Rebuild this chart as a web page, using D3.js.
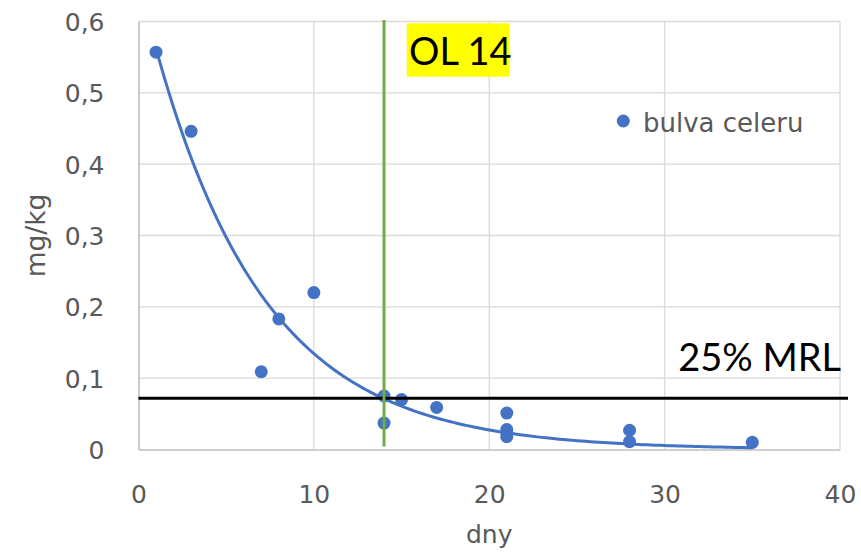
<!DOCTYPE html>
<html>
<head>
<meta charset="utf-8">
<script src="https://cdn.jsdelivr.net/npm/d3@7"></script>
<style>
  html, body { margin: 0; padding: 0; background: #ffffff; }
  svg { display: block; }
</style>
</head>
<body>
<svg id="chart" width="861" height="560"></svg>
<script>
// Residue measurements: days after application vs. residue (mg/kg)
const days = [1, 3, 7, 8, 10, 14, 14, 15, 17, 21, 21, 21, 21, 28, 28, 35];
const residues = [0.557, 0.446, 0.109, 0.183, 0.220, 0.075, 0.037, 0.070, 0.059,
                  0.051, 0.028, 0.023, 0.018, 0.027, 0.011, 0.010];
const seriesName = "bulva celeru";

const xTicks = [0, 10, 20, 30, 40];
const yTicks = [0, 0.1, 0.2, 0.3, 0.4, 0.5, 0.6];

// Reference levels
const mrlQuarter = 0.072;      // 25 % of the MRL
const mrlLabel = "25% MRL";
const waitingDay = 14;         // ochranná lhůta
const waitingLabel = "OL 14";

const W = 861, H = 560;
const m = { left: 138.5, right: 21, top: 21.5, bottom: 110.5 };
const svg = d3.select("#chart");

const x = d3.scaleLinear().domain([0, 40]).range([m.left, W - m.right]);
const y = d3.scaleLinear().domain([0, 0.6]).range([H - m.bottom, m.top]);

const gray = "#595959";
const blue = "#4472c4";
const fmt = d => d === 0 ? "0" : d3.format(".1f")(d).replace(".", ",");

// Gridlines
svg.append("g").selectAll("line.h").data(yTicks.slice(1)).join("line")
  .attr("x1", x(0)).attr("x2", x(40))
  .attr("y1", d => y(d)).attr("y2", d => y(d))
  .attr("stroke", "#d9d9d9").attr("stroke-width", 1.3);
svg.append("g").selectAll("line.v").data(xTicks.slice(1)).join("line")
  .attr("y1", y(0)).attr("y2", y(0.6))
  .attr("x1", d => x(d)).attr("x2", d => x(d))
  .attr("stroke", "#d9d9d9").attr("stroke-width", 1.3);

// Axes (lines only, labels styled separately)
const xAxis = svg.append("g").attr("transform", `translate(0,${y(0)})`)
  .call(d3.axisBottom(x).tickValues(xTicks).tickSize(0).tickFormat(d3.format("d")));
const yAxis = svg.append("g").attr("transform", `translate(${x(0)},0)`)
  .call(d3.axisLeft(y).tickValues(yTicks).tickSize(0).tickFormat(fmt));
[xAxis, yAxis].forEach(a => {
  a.select(".domain").attr("stroke", "#bfbfbf").attr("stroke-width", 1.6);
  a.selectAll("text").attr("fill", gray)
    .style("font-family", "'DejaVu Sans', sans-serif").style("font-size", "25px");
});
xAxis.selectAll("text").attr("dy", null).attr("y", 53.5);
yAxis.selectAll("text").attr("x", -34).attr("dy", "0.36em");

// Axis titles
svg.append("text").attr("x", (x(0) + x(40)) / 2).attr("y", 543)
  .attr("text-anchor", "middle").attr("fill", gray)
  .style("font-family", "'DejaVu Sans', sans-serif").style("font-size", "25px")
  .text("dny");
svg.append("text")
  .attr("transform", `translate(45,${(y(0) + y(0.6)) / 2}) rotate(-90)`)
  .attr("text-anchor", "middle").attr("fill", gray)
  .style("font-family", "'DejaVu Sans', sans-serif").style("font-size", "26.5px")
  .text("mg/kg");

// Exponential trend y = a*exp(b*x), least-squares fit (Gauss-Newton from log-linear start)
function fitExp(xs, ys) {
  const n = xs.length;
  const lx = d3.mean(xs), ly = d3.mean(ys.map(Math.log));
  let sxy = 0, sxx = 0;
  xs.forEach((xi, i) => { sxy += (xi - lx) * (Math.log(ys[i]) - ly); sxx += (xi - lx) ** 2; });
  let b = sxy / sxx, a = Math.exp(ly - b * lx);
  for (let it = 0; it < 200; it++) {
    let jaa = 0, jab = 0, jbb = 0, ga = 0, gb = 0;
    for (let i = 0; i < n; i++) {
      const e = Math.exp(b * xs[i]);
      const r = ys[i] - a * e;
      const da = e, db = a * xs[i] * e;
      jaa += da * da; jab += da * db; jbb += db * db;
      ga += da * r; gb += db * r;
    }
    const det = jaa * jbb - jab * jab;
    const stepA = (jbb * ga - jab * gb) / det;
    const stepB = (jaa * gb - jab * ga) / det;
    a += stepA; b += stepB;
    if (Math.abs(stepA) < 1e-12 && Math.abs(stepB) < 1e-12) break;
  }
  return { a, b };
}
const fit = fitExp(days, residues);
const trendX = d3.range(d3.min(days), d3.max(days) + 0.001, 0.25);
const trend = d3.line().x(d => x(d)).y(d => y(fit.a * Math.exp(fit.b * d)));

// Points
svg.append("g").selectAll("circle").data(days.map((d, i) => [d, residues[i]])).join("circle")
  .attr("cx", d => x(d[0])).attr("cy", d => y(d[1])).attr("r", 6.5)
  .attr("fill", blue);

svg.append("path").datum(trendX).attr("d", trend)
  .attr("fill", "none").attr("stroke", blue).attr("stroke-width", 3)
  .attr("stroke-linecap", "round");

// 25 % MRL level
svg.append("line")
  .attr("x1", x(0)).attr("x2", x(40) + 8)
  .attr("y1", y(mrlQuarter)).attr("y2", y(mrlQuarter))
  .attr("stroke", "#000").attr("stroke-width", 3);
svg.append("text").attr("x", x(40) + 1).attr("y", 370.7)
  .attr("text-anchor", "end").attr("fill", "#000")
  .style("font-family", "Lato, sans-serif").style("font-size", "38px")
  .text(mrlLabel);

// Waiting period marker
svg.append("line")
  .attr("x1", x(waitingDay)).attr("x2", x(waitingDay))
  .attr("y1", y(0.6) - 1.5).attr("y2", y(0) - 3)
  .attr("stroke", "#70ad47").attr("stroke-width", 3);
svg.append("rect").attr("x", 406.7).attr("y", 23.3).attr("width", 102.6).attr("height", 53.4)
  .attr("fill", "#ffff00");
svg.append("text").attr("x", 409).attr("y", 65)
  .attr("fill", "#000")
  .style("font-family", "Lato, sans-serif").style("font-size", "38px")
  .text(waitingLabel);

// Legend
const lg = svg.append("g").attr("transform", "translate(623.3,121)");
lg.append("circle").attr("r", 6.5).attr("fill", blue);
lg.append("text").attr("x", 19.7).attr("y", 10.7).attr("fill", gray)
  .style("font-family", "'DejaVu Sans', sans-serif").style("font-size", "26px")
  .text(seriesName);
</script>
</body>
</html>
